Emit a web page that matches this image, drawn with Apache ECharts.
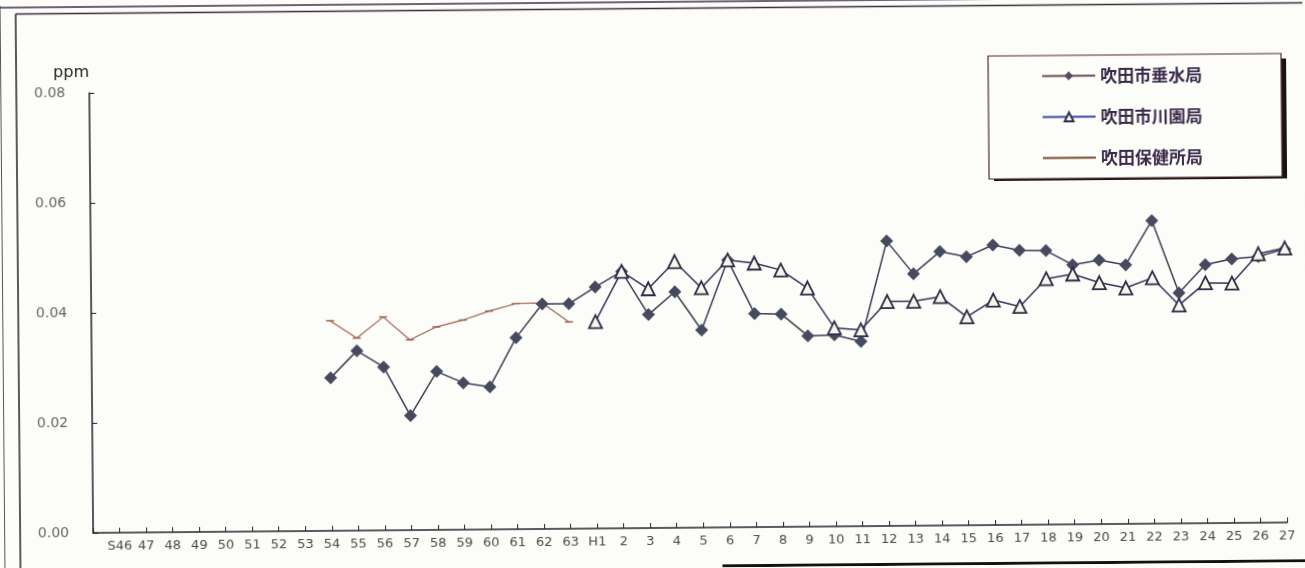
<!DOCTYPE html>
<html>
<head>
<meta charset="utf-8">
<script src="https://cdn.jsdelivr.net/npm/echarts@6/dist/echarts.min.js"></script>
<style>
  html, body { margin: 0; padding: 0; background: #fcfcf8; overflow: hidden; }
  #chart { width: 1305px; height: 568px; transform: rotate(-0.5deg); transform-origin: 50% 50%; }
</style>
</head>
<body>
<div id="chart"></div>
<script>
// Fiscal-year categories: Showa 46–63, then Heisei 1–27
const categories = ['S46','47','48','49','50','51','52','53','54','55','56','57','58','59','60','61','62','63',
  'H1','2','3','4','5','6','7','8','9','10','11','12','13','14','15','16','17','18','19','20','21','22','23','24','25','26','27'];

// Annual means (ppm)
// 吹田市垂水局: S54 – H27
const tarumiStart = 8;
const tarumi = [0.0278, 0.0327, 0.0297, 0.0208, 0.0288, 0.0267, 0.0259, 0.0348, 0.0409, 0.0409,
  0.0439, 0.0467, 0.0388, 0.0429, 0.0359, 0.0486, 0.0388, 0.0387, 0.0347, 0.0348,
  0.0336, 0.0518, 0.0458, 0.0498, 0.0488, 0.0509, 0.0499, 0.0498, 0.0472, 0.0480,
  0.0471, 0.0551, 0.0419, 0.0470, 0.0480, 0.0484, 0.0497];

// 吹田市川園局: H1 – H27
const kawazonoStart = 18;
const kawazono = [0.0376, 0.0467, 0.0435, 0.0484, 0.0436, 0.0486, 0.0480, 0.0467, 0.0434, 0.0361,
  0.0357, 0.0408, 0.0408, 0.0416, 0.0379, 0.0409, 0.0397, 0.0447, 0.0455, 0.0439,
  0.0429, 0.0447, 0.0397, 0.0437, 0.0436, 0.0489, 0.0499];

// 吹田保健所局: S54 – S63
const hokenjoStart = 8;
const hokenjo = [0.0382, 0.0350, 0.0388, 0.0346, 0.0369, 0.0381, 0.0397, 0.0410, 0.0411, 0.0376];

const yTicks = [0, 0.02, 0.04, 0.06, 0.08];

function toPairs(start, values) {
  return values.map((v, i) => [start + i, v]);
}

const chart = echarts.init(document.getElementById('chart'), null, { renderer: 'canvas' });

const axisFont = 'DejaVu Sans';

// legend box geometry (also used for its drop shadow)
const legendBox = { x: 990, y: 59, w: 292, h: 120 };

chart.setOption({
  backgroundColor: '#fcfcf8',
  animation: false,
  grid: { left: 91, right: 20, top: 88, bottom: 40 },
  xAxis: {
    type: 'value',
    min: -1,
    max: categories.length - 1,
    interval: 1,
    axisLine: { onZero: false, lineStyle: { color: '#2a2232', width: 1.5 } },
    axisTick: { inside: true, length: 5, lineStyle: { color: '#2a2232', width: 1 } },
    splitLine: { show: false },
    axisLabel: {
      margin: 7,
      color: '#4a4a4a',
      fontFamily: axisFont,
      fontSize: 13,
      formatter: v => (v >= 0 && v < categories.length ? categories[v] : '')
    }
  },
  yAxis: {
    type: 'value',
    min: yTicks[0],
    max: yTicks[yTicks.length - 1],
    interval: yTicks[1] - yTicks[0],
    name: 'ppm',
    nameLocation: 'end',
    nameGap: 12,
    nameTextStyle: { align: 'right', color: '#222', fontFamily: axisFont, fontSize: 16 },
    axisLine: { show: true, onZero: false, lineStyle: { color: '#222230', width: 1.5 } },
    axisTick: { show: true, inside: true, length: 5, lineStyle: { color: '#222230' } },
    splitLine: { show: false },
    axisLabel: {
      margin: 24,
      color: '#666',
      fontFamily: axisFont,
      fontSize: 14,
      formatter: v => v.toFixed(2)
    }
  },
  legend: {
    orient: 'vertical',
    left: legendBox.x,
    top: legendBox.y,
    padding: [12, 79, 12, 53],
    itemWidth: 53,
    itemHeight: 11,
    itemGap: 24,
    backgroundColor: '#fdfdfa',
    borderColor: '#4a2a30',
    borderWidth: 1.2,
    z: 5,
    textStyle: {
      color: '#3a2a4a',
      fontFamily: 'Noto Sans CJK JP',
      fontSize: 17,
      fontWeight: 'bold',
      lineHeight: 16
    },
    data: [
      { name: '吹田市垂水局', lineStyle: { color: '#6a4a4e' }, itemStyle: { color: '#5a4a5a' } },
      { name: '吹田市川園局', lineStyle: { color: '#3848a8' } },
      { name: '吹田保健所局', lineStyle: { color: '#7a4a30' }, itemStyle: { opacity: 0 } }
    ]
  },
  graphic: [
    // outer and inner frame lines around the chart
    { type: 'line', shape: { x1: 0, y1: 2, x2: 1305, y2: 2 }, style: { stroke: '#3a3050', lineWidth: 1.5 } },
    { type: 'line', shape: { x1: 18, y1: 8.5, x2: 1305, y2: 8.5 }, style: { stroke: '#3a2a40', lineWidth: 1.5 } },
    { type: 'line', shape: { x1: 2.5, y1: 0, x2: 2.5, y2: 568 }, style: { stroke: '#555', lineWidth: 1 } },
    { type: 'line', shape: { x1: 18, y1: 8.5, x2: 18, y2: 568 }, style: { stroke: '#2a2228', lineWidth: 1.5 } },
    { type: 'line', shape: { x1: 720, y1: 566.5, x2: 1305, y2: 566.5 }, style: { stroke: '#111', lineWidth: 3 } },
    // hard drop shadow behind the legend box
    {
      type: 'rect', z: 4,
      shape: { x: legendBox.x + 5, y: legendBox.y + 5, width: legendBox.w + 1, height: legendBox.h },
      style: { fill: '#151515' }
    }
  ],
  series: [
    {
      name: '吹田市垂水局',
      type: 'line',
      data: toPairs(tarumiStart, tarumi),
      symbol: 'diamond',
      symbolSize: 13,
      itemStyle: { color: '#464a5e' },
      lineStyle: { color: '#3e3e55', width: 1.5 },
      z: 2
    },
    {
      name: '吹田市川園局',
      type: 'line',
      data: toPairs(kawazonoStart, kawazono),
      symbol: 'triangle',
      symbolSize: 13,
      itemStyle: { color: '#fbf4e8', borderColor: '#2c2c48', borderWidth: 1.8 },
      lineStyle: { color: '#34345a', width: 1.5 },
      z: 3
    },
    {
      name: '吹田保健所局',
      type: 'line',
      data: toPairs(hokenjoStart, hokenjo),
      symbol: 'rect',
      symbolSize: [8, 1.5],
      itemStyle: { color: '#9c6450' },
      lineStyle: { color: '#9c6450', width: 1.2 },
      z: 1
    }
  ]
});
</script>
</body>
</html>
